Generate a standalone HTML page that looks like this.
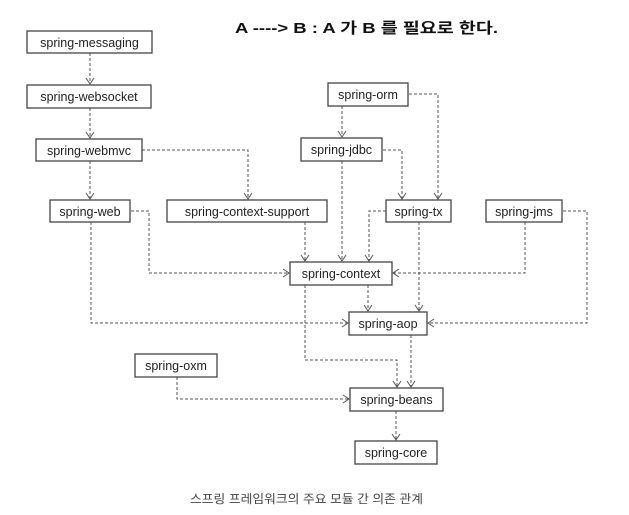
<!DOCTYPE html>
<html><head><meta charset="utf-8"><style>
html,body{margin:0;padding:0;background:#fff;width:629px;height:515px;overflow:hidden}
svg{display:block}
text{font-family:"Liberation Sans","Noto Sans CJK KR",sans-serif}
.b{fill:#fff;stroke:#444;stroke-width:1.3}
.t{font-size:12.5px;fill:#222;text-anchor:middle}
.l{fill:none;stroke:#555;stroke-width:1;stroke-dasharray:3,2}
.a{fill:none;stroke:#555;stroke-width:1}
</style></head><body>
<svg width="629" height="515" viewBox="0 0 629 515" xmlns="http://www.w3.org/2000/svg">
<text x="235" y="33" style="font-size:15px;font-weight:bold;fill:#111" textLength="263" lengthAdjust="spacingAndGlyphs">A ----&gt; B  : A 가 B 를 필요로 한다.</text>

<!-- connectors -->
<path class="l" d="M90 53V84"/><path class="a" d="M86 78l4 6 4-6"/>
<path class="l" d="M90 108V138"/><path class="a" d="M86 132l4 6 4-6"/>
<path class="l" d="M90 161V199"/><path class="a" d="M86 193l4 6 4-6"/>
<path class="l" d="M142 150H248V199"/><path class="a" d="M244 193l4 6 4-6"/>
<path class="l" d="M131 211H149V273H289"/><path class="a" d="M283 269l6 4-6 4"/>
<path class="l" d="M91 222V323H348"/><path class="a" d="M342 319l6 4-6 4"/>
<path class="l" d="M305 222V261"/><path class="a" d="M301 255l4 6 4-6"/>
<path class="l" d="M342 161V261"/><path class="a" d="M338 255l4 6 4-6"/>
<path class="l" d="M342 106V137"/><path class="a" d="M338 131l4 6 4-6"/>
<path class="l" d="M383 150H402V199"/><path class="a" d="M398 193l4 6 4-6"/>
<path class="l" d="M409 94H438V199"/><path class="a" d="M434 193l4 6 4-6"/>
<path class="l" d="M386 211H369V261"/><path class="a" d="M365 255l4 6 4-6"/>
<path class="l" d="M419 222V311"/><path class="a" d="M415 305l4 6 4-6"/>
<path class="l" d="M525 222V273H393"/><path class="a" d="M399 269l-6 4 6 4"/>
<path class="l" d="M563 211H587V323H428"/><path class="a" d="M434 319l-6 4 6 4"/>
<path class="l" d="M368 285V311"/><path class="a" d="M364 305l4 6 4-6"/>
<path class="l" d="M305 285V360H397V387"/><path class="a" d="M393 381l4 6 4-6"/>
<path class="l" d="M411 335V387"/><path class="a" d="M407 381l4 6 4-6"/>
<path class="l" d="M177 377V399H349"/><path class="a" d="M343 395l6 4-6 4"/>
<path class="l" d="M396 411V440"/><path class="a" d="M392 434l4 6 4-6"/>

<!-- boxes -->
<rect class="b" x="27" y="31" width="125" height="22"/><text class="t" x="89.5" y="47">spring-messaging</text>
<rect class="b" x="27" y="85" width="124" height="23"/><text class="t" x="89" y="101">spring-websocket</text>
<rect class="b" x="36" y="139" width="106" height="22"/><text class="t" x="89" y="155">spring-webmvc</text>
<rect class="b" x="50" y="200" width="80" height="22"/><text class="t" x="90" y="216">spring-web</text>
<rect class="b" x="167" y="200" width="160" height="22"/><text class="t" x="247" y="216">spring-context-support</text>
<rect class="b" x="328" y="83" width="80" height="23"/><text class="t" x="368" y="99">spring-orm</text>
<rect class="b" x="301" y="138" width="81" height="23"/><text class="t" x="341.5" y="154">spring-jdbc</text>
<rect class="b" x="386" y="200" width="65" height="22"/><text class="t" x="418.5" y="216">spring-tx</text>
<rect class="b" x="486" y="200" width="76" height="22"/><text class="t" x="524" y="216">spring-jms</text>
<rect class="b" x="290" y="262" width="102" height="23"/><text class="t" x="341" y="278">spring-context</text>
<rect class="b" x="349" y="312" width="78" height="23"/><text class="t" x="388" y="328">spring-aop</text>
<rect class="b" x="135" y="354" width="82" height="23"/><text class="t" x="176" y="370">spring-oxm</text>
<rect class="b" x="350" y="388" width="93" height="23"/><text class="t" x="396.5" y="404">spring-beans</text>
<rect class="b" x="355" y="441" width="82" height="23"/><text class="t" x="396" y="457">spring-core</text>

<text x="190" y="503" style="font-size:12px;fill:#444" textLength="233" lengthAdjust="spacingAndGlyphs">스프링 프레임워크의 주요 모듈 간 의존 관계</text>
</svg>
</body></html>
